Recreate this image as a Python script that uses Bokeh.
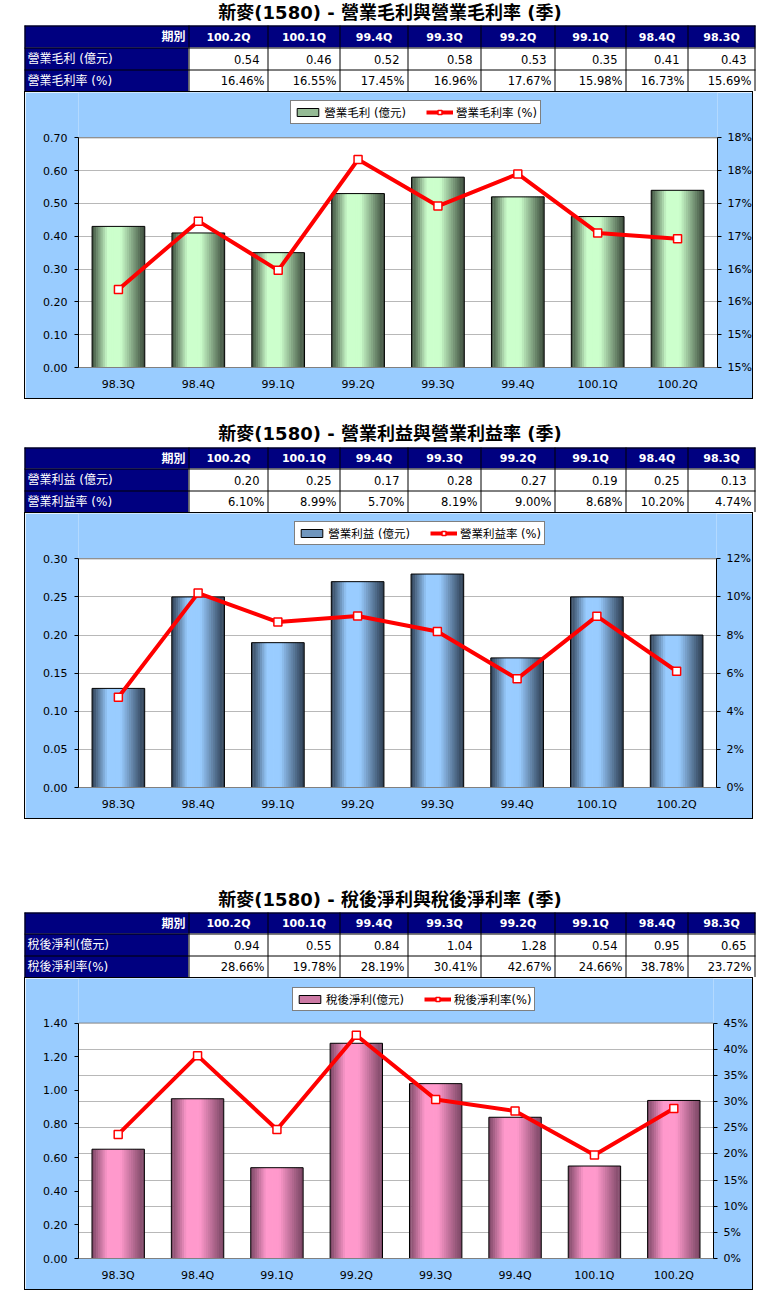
import numpy as np
from bokeh.plotting import figure
from bokeh.models import (ColumnDataSource, Range1d, FactorRange, LinearAxis, FixedTicker,
                          NumeralTickFormatter, PrintfTickFormatter, Legend, LegendItem, Grid, Spacer,
                          BoxAnnotation, Span)
from bokeh.layouts import column, row
from bokeh.transform import dodge
from bokeh.core.properties import value
from bokeh.embed import file_html
from bokeh.resources import INLINE

# ---------------- data (table order: newest first) ----------------
periods = ["100.2Q", "100.1Q", "99.4Q", "99.3Q", "99.2Q", "99.1Q", "98.4Q", "98.3Q"]
header_label = "期別"

title_1 = "新麥(1580) - 營業毛利與營業毛利率 (季)"
rows_1 = ["營業毛利 (億元)", "營業毛利率 (%)"]
gross_profit = [0.54, 0.46, 0.52, 0.58, 0.53, 0.35, 0.41, 0.43]
gross_margin = [16.46, 16.55, 17.45, 16.96, 17.67, 15.98, 16.73, 15.69]

title_2 = "新麥(1580) - 營業利益與營業利益率 (季)"
rows_2 = ["營業利益 (億元)", "營業利益率 (%)"]
op_income = [0.20, 0.25, 0.17, 0.28, 0.27, 0.19, 0.25, 0.13]
op_margin = [6.10, 8.99, 5.70, 8.19, 9.00, 8.68, 10.20, 4.74]

title_3 = "新麥(1580) - 稅後淨利與稅後淨利率 (季)"
rows_3 = ["稅後淨利(億元)", "稅後淨利率(%)"]
net_income = [0.94, 0.55, 0.84, 1.04, 1.28, 0.54, 0.95, 0.65]
net_margin = [28.66, 19.78, 28.19, 30.41, 42.67, 24.66, 38.78, 23.72]

left_ticks_1 = [0.0, 0.1, 0.2, 0.3, 0.4, 0.5, 0.6, 0.7]
right_ticks_1 = [14.5, 15.0, 15.5, 16.0, 16.5, 17.0, 17.5, 18.0]
right_labels_1 = ["15%", "15%", "16%", "16%", "17%", "17%", "18%", "18%"]
left_ticks_2 = [0.0, 0.05, 0.10, 0.15, 0.20, 0.25, 0.30]
right_ticks_2 = [0, 2, 4, 6, 8, 10, 12]
left_ticks_3 = [0.0, 0.2, 0.4, 0.6, 0.8, 1.0, 1.2, 1.4]
right_ticks_3 = [0, 5, 10, 15, 20, 25, 30, 35, 40, 45]

# ---------------- layout / style constants ----------------
FONT = "DejaVu Sans, Noto Sans CJK TC"
NAVY = "#000080"
PANEL = "#99CCFF"
OFF = 8
PAGE_W = 763
COL_EDGES = [24, 188, 267, 339, 407, 480, 554, 625, 687, 754]
TABLE_RIGHT = 755


def make_table(top, bottom, title, title_cy, redges, labels, vals, pcts):
    p = figure(width=PAGE_W, height=bottom - top,
               x_range=Range1d(OFF, OFF + PAGE_W), y_range=Range1d(bottom, top),
               min_border=0, toolbar_location=None, output_backend="svg",
               x_axis_location=None, y_axis_location=None)
    p.grid.visible = False
    p.outline_line_color = None
    p.background_fill_color = "white"
    p.border_fill_color = "white"
    r0, r1, r2, r3 = redges
    e = COL_EDGES
    p.quad(left=[e[0], e[0]], right=[TABLE_RIGHT, e[1]], top=[r0, r1], bottom=[r1, r3],
           fill_color=NAVY, line_color=None)
    p.quad(left=[e[1]], right=[TABLE_RIGHT], top=[r1], bottom=[r3],
           fill_color="white", line_color=None)
    vx = [x + 0.5 for x in e]
    p.segment(x0=vx, y0=[r0] * len(vx), x1=vx, y1=[r3] * len(vx), line_color="black", line_width=1)
    hy = [r0 + 0.5, r1 + 0.5, r2 + 0.5]
    p.segment(x0=[e[0]] * 3, y0=hy, x1=[TABLE_RIGHT] * 3, y1=hy, line_color="black", line_width=1)

    p.text(x=[(e[0] + TABLE_RIGHT) / 2], y=[title_cy], text=[title], text_align="center",
           text_baseline="middle", text_font=value(FONT), text_font_size="18px",
           text_font_style="bold", text_color="#000000")
    cy = [(r0 + r1) / 2 + 0.5, (r1 + r2) / 2 + 0.5, (r2 + r3) / 2 + 0.5]
    centers = [(e[i + 1] + e[i + 2]) / 2 + 0.5 for i in range(len(periods))]
    p.text(x=[e[1] - 3], y=[cy[0]], text=[header_label], text_align="right", text_baseline="middle",
           text_font=value(FONT), text_font_size="12px", text_font_style="bold", text_color="white")
    p.text(x=centers, y=[cy[0]] * len(periods), text=periods, text_align="center",
           text_baseline="middle", text_font=value(FONT), text_font_size="11px",
           text_font_style="bold", text_color="white")
    p.text(x=[e[0] + 3] * 2, y=[cy[1], cy[2]], text=labels, text_align="left", text_baseline="middle",
           text_font=value(FONT), text_font_size="12px", text_color="white")
    rights = [e[i + 2] for i in range(len(periods))]
    p.text(x=[r - 8 for r in rights], y=[cy[1]] * len(vals), text=[f"{v:.2f}" for v in vals],
           text_align="right", text_baseline="middle", text_font=value("DejaVu Sans"),
           text_font_size="11.5px", text_color="#000000")
    p.text(x=[r - 3 for r in rights], y=[cy[2]] * len(pcts), text=[f"{v:.2f}%" for v in pcts],
           text_align="right", text_baseline="middle", text_font=value("DejaVu Sans"),
           text_font_size="11.5px", text_color="#000000")
    return p


def grad_colors(dark, light, n):
    out = []
    for k in range(n):
        u = (k + 0.5) / n
        if u < 0.3:
            t = u / 0.3
        elif u < 0.55:
            t = 1.0
        else:
            t = 1.0 - (u - 0.55) / 0.45
        t = min(max(t, 0.0), 1.0)
        c = [int(round(d + (l - d) * t)) for d, l in zip(dark, light)]
        out.append("#%02x%02x%02x" % tuple(c))
    return out


def style_axis(ax, line_color, tick_out, standoff):
    ax.axis_line_color = line_color
    ax.major_tick_line_color = "black" if tick_out > 0 else None
    ax.major_tick_out = tick_out
    ax.major_tick_in = 0
    ax.minor_tick_line_color = None
    ax.major_label_standoff = standoff
    ax.major_label_text_font = "DejaVu Sans"
    ax.major_label_text_font_size = "11px"
    ax.major_label_text_color = "#000000"


def make_chart(ptop, pbot, frame, vals, pcts, lticks, lrange, rticks, rrange, rfmt, roverrides,
               dark, light, leg_labels, leg_left, leg_bottom, grid_right):
    fl, fr, ft, fb = frame
    inner_w = TABLE_RIGHT - 24 - 2
    inner_h = pbot - ptop - 2
    mb_l = round(fl - 25)
    mb_r = round(754 - fr)
    mb_b = round((pbot - 1) - fb)
    frame_h = inner_h - mb_b
    k = frame_h / (fb - ft)          # frame extends up into the legend zone
    l0, l1 = lrange
    r0, r1 = rrange
    cats = periods[::-1]
    src = ColumnDataSource(dict(cat=cats, val=vals[::-1], pct=pcts[::-1]))
    p = figure(width=inner_w, height=inner_h, x_range=FactorRange(factors=cats),
               y_range=Range1d(l0, l0 + (l1 - l0) * k), toolbar_location=None, output_backend="svg",
               min_border_left=mb_l, min_border_right=mb_r, min_border_top=0,
               min_border_bottom=mb_b)
    p.styles = {"border": "1px solid black"}
    p.extra_y_ranges = {"pct": Range1d(r0, r0 + (r1 - r0) * k)}
    p.border_fill_color = PANEL
    p.background_fill_color = PANEL
    p.outline_line_color = None
    p.xgrid.visible = False

    # white plot area + its grey top edge
    p.add_layout(BoxAnnotation(bottom=l0, top=l1, fill_color="white", fill_alpha=1.0,
                               line_color=None, level="image"))
    p.add_layout(Span(location=l1, dimension="width", line_color="#808080", line_width=1,
                      level="underlay"))

    ya = p.yaxis[0]
    ya.ticker = FixedTicker(ticks=lticks)
    ya.formatter = NumeralTickFormatter(format="0.00")
    ya.bounds = (l0, l1)
    style_axis(ya, "black", 4, 7)

    xa = p.xaxis[0]
    style_axis(xa, "#808080", 0, 10)

    ra = LinearAxis(y_range_name="pct", ticker=FixedTicker(ticks=rticks), bounds=(r0, r1))
    if rfmt is not None:
        ra.formatter = rfmt
    if roverrides is not None:
        ra.major_label_overrides = roverrides
    style_axis(ra, "black", 4, 6)
    p.add_layout(ra, "right")

    if grid_right:
        p.ygrid.visible = False
        g = Grid(dimension=1, ticker=FixedTicker(ticks=rticks), y_range_name="pct",
                 grid_line_color="#b8b8b8", grid_line_width=1)
        p.add_layout(g)
    else:
        p.ygrid.ticker = FixedTicker(ticks=lticks)
        p.ygrid.grid_line_color = "#b8b8b8"

    # gradient bars made of vertical strips
    N = 24
    BW = 0.66
    step = BW / N
    cols = grad_colors(dark, light, N)
    strips = []
    for j in range(N):
        off = -BW / 2 + (j + 0.5) * step
        w = step * 1.35 if 0 < j < N - 1 else step
        r = p.vbar(x=dodge("cat", off, range=p.x_range), top="val", width=w, source=src,
                   fill_color=cols[j], line_color=None)
        strips.append(r)
    outline = p.vbar(x="cat", top="val", width=BW, source=src, fill_color=None,
                     line_color="black", line_width=1)

    ln = p.line(x="cat", y="pct", source=src, y_range_name="pct", line_color="#ff0000", line_width=4)
    mk = p.scatter(x="cat", y="pct", source=src, y_range_name="pct", marker="square", size=8,
                   fill_color="white", line_color="#ff0000", line_width=1.5)

    legend = Legend(items=[LegendItem(label=leg_labels[0], renderers=[strips[N // 6], outline]),
                           LegendItem(label=leg_labels[1], renderers=[ln, mk])],
                    orientation="horizontal",
                    location=(leg_left - fl, fb - leg_bottom),
                    border_line_color="black", border_line_width=1,
                    background_fill_color="white", background_fill_alpha=1.0,
                    label_text_font=FONT, label_text_font_size="11.5px", label_text_color="#000000",
                    glyph_width=27, glyph_height=10, label_standoff=3, spacing=20,
                    padding=3, margin=0, label_height=12)
    p.add_layout(legend)
    return p


t1 = make_table(0, 91, title_1, 12, [25, 47, 69, 91], rows_1, gross_profit, gross_margin)
c1 = make_chart(91, 401, (77.7, 716.7, 137.3, 367), gross_profit, gross_margin,
                left_ticks_1, (0, 0.7), right_ticks_1, (14.5, 18.0), None,
                dict(zip(right_ticks_1, right_labels_1)),
                (0x3a, 0x4a, 0x3a), (0xcc, 0xff, 0xcc), rows_1, 290, 124, False)

t2 = make_table(401, 512, title_2, 433, [447, 468, 490, 512], rows_2, op_income, op_margin)
c2 = make_chart(512, 821, (77.7, 715.7, 558.3, 787), op_income, op_margin,
                left_ticks_2, (0, 0.30), right_ticks_2, (0, 12), PrintfTickFormatter(format="%d%%"), None,
                (0x2c, 0x3c, 0x50), (0x99, 0xcc, 0xff), rows_2, 294, 545, False)

t3 = make_table(821, 977, title_3, 898.5, [912, 933, 955, 977], rows_3, net_income, net_margin)
c3 = make_chart(977, 1292, (77.7, 713, 1022.3, 1257.7), net_income, net_margin,
                left_ticks_3, (0, 1.4), right_ticks_3, (0, 45), PrintfTickFormatter(format="%d%%"), None,
                (0x78, 0x44, 0x62), (0xff, 0x99, 0xcc), rows_3, 291.7, 1010.7, True)

body = column(
    t1, row(Spacer(width=16, height=310), c1, spacing=0),
    t2, row(Spacer(width=16, height=309), c2, spacing=0),
    t3, row(Spacer(width=16, height=315), c3, spacing=0),
    spacing=0)

layout = row(Spacer(width=OFF, height=10), body, spacing=0)

open("out.html", "w").write(file_html(layout, INLINE))
